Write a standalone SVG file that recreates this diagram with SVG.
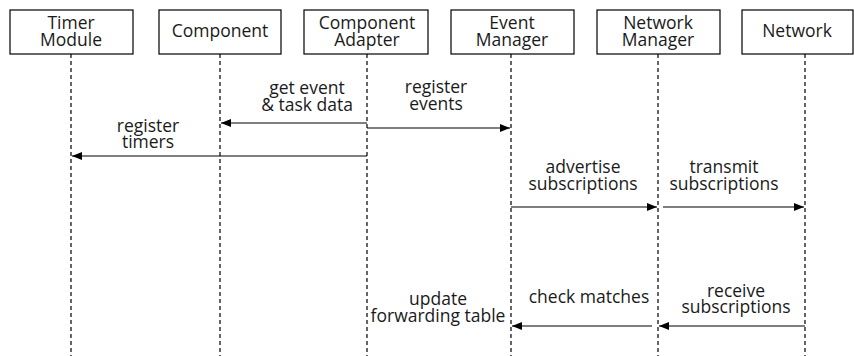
<svg xmlns="http://www.w3.org/2000/svg" width="854" height="356" viewBox="0 0 854 356">
<style>
.box{fill:#fff;stroke:#000;stroke-width:1.2}
.life{stroke:#000;stroke-width:1.2;stroke-dasharray:4 3;fill:none}
.msg{stroke:#000;stroke-width:1.2;fill:none;marker-end:url(#ah)}
text{font-family:"Open Sans","Liberation Sans",sans-serif;font-size:17.5px;fill:#1a1a1a;text-anchor:middle}
</style>
<defs>
<marker id="ah" viewBox="0 0 10 8" refX="10" refY="4" markerWidth="10" markerHeight="8" markerUnits="userSpaceOnUse" orient="auto">
<path d="M0,0 L10,4 L0,8 Z" fill="#000"/>
</marker>
</defs>
<rect width="854" height="356" fill="#fff"/>
<g id="timer"><rect class="box" x="10" y="10" width="123" height="44"/><text x="71" y="29">Timer<tspan x="71" dy="17">Module</tspan></text><line class="life" x1="71" y1="54" x2="71" y2="356"/></g>
<g id="component"><rect class="box" x="159" y="10" width="122" height="44"/><text x="220" y="37">Component</text><line class="life" x1="220" y1="54" x2="220" y2="356"/></g>
<g id="adapter"><rect class="box" x="304" y="10" width="124" height="44"/><text x="367" y="29">Component<tspan x="367" dy="17">Adapter</tspan></text><line class="life" x1="367" y1="54" x2="367" y2="356"/></g>
<g id="eventmgr"><rect class="box" x="451" y="10" width="123" height="44"/><text x="512" y="29">Event<tspan x="512" dy="17">Manager</tspan></text><line class="life" x1="511" y1="54" x2="511" y2="356"/></g>
<g id="netmgr"><rect class="box" x="597" y="10" width="123" height="44"/><text x="658" y="29">Network<tspan x="658" dy="17">Manager</tspan></text><line class="life" x1="658" y1="54" x2="658" y2="356"/></g>
<g id="network"><rect class="box" x="742" y="10" width="111" height="44"/><text x="797" y="37">Network</text><line class="life" x1="805" y1="54" x2="805" y2="356"/></g>
<g id="connectors">
<line class="msg" x1="367" y1="123" x2="221" y2="123"/>
<line class="msg" x1="367" y1="128" x2="510" y2="128"/>
<line class="msg" x1="367" y1="156" x2="72" y2="156"/>
<line class="msg" x1="511" y1="207" x2="657" y2="207"/>
<line class="msg" x1="663" y1="207" x2="804" y2="207"/>
<line class="msg" x1="652" y1="326" x2="512" y2="326"/>
<line class="msg" x1="805" y1="326" x2="659" y2="326"/>
</g>
<g id="labels">
<text x="307" y="94">get event<tspan x="307" dy="17">&amp; task data</tspan></text>
<text x="436" y="93">register<tspan x="436" dy="17">events</tspan></text>
<text x="148" y="132">register<tspan x="148" dy="16">timers</tspan></text>
<text x="583" y="173">advertise<tspan x="583" dy="17">subscriptions</tspan></text>
<text x="724" y="173">transmit<tspan x="724" dy="17">subscriptions</tspan></text>
<text x="589" y="303">check matches</text>
<text x="736" y="297">receive<tspan x="736" dy="16">subscriptions</tspan></text>
<text x="438" y="305">update<tspan x="438" dy="17">forwarding table</tspan></text>
</g>
</svg>
